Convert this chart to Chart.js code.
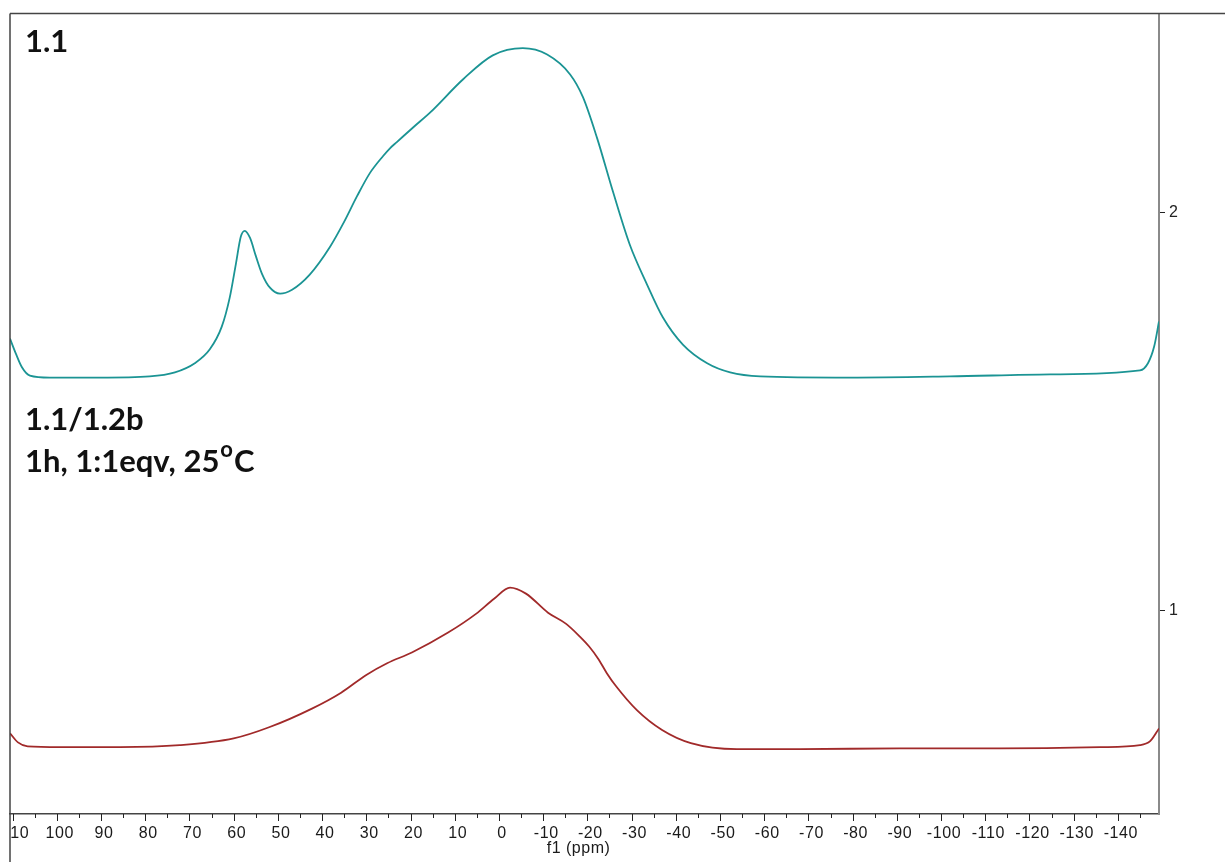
<!DOCTYPE html>
<html lang="en">
<head>
<meta charset="utf-8" />
<title>f1 (ppm) spectra</title>
<script src="https://cdn.jsdelivr.net/npm/chart.js@4.4.1/dist/chart.umd.min.js"></script>
<style>
  body { margin: 0; background: #fff; }
  canvas { display: block; }
</style>
</head>
<body>
<canvas id="chart" width="1225" height="862"></canvas>
<script>
// upper trace (1.1)
const ppmTop = [110.6, 109.3, 107.9, 106.1, 101.6, 90.3, 79.0, 73.3, 68.8, 65.4, 62.7, 60.9, 59.5, 58.4, 57.5, 56.3, 55.0, 53.6, 51.8, 49.5, 46.8, 42.8, 38.2, 35.0, 32.1, 29.2, 26.2, 24.6, 23.1, 19.3, 15.6, 8.1, 1.4, -5.4, -10.9, -16.1, -19.0, -22.2, -25.8, -29.6, -33.5, -37.1, -41.6, -47.1, -52.3, -59.1, -79.4, -102.0, -124.7, -145.0, -146.8, -148.2, -149.3];
const intTop = [1.684, 1.647, 1.612, 1.591, 1.586, 1.586, 1.589, 1.599, 1.622, 1.657, 1.714, 1.787, 1.872, 1.940, 1.955, 1.937, 1.892, 1.847, 1.812, 1.797, 1.807, 1.845, 1.915, 1.978, 2.042, 2.100, 2.143, 2.163, 2.178, 2.216, 2.252, 2.336, 2.396, 2.414, 2.398, 2.348, 2.291, 2.188, 2.053, 1.920, 1.820, 1.737, 1.669, 1.622, 1.599, 1.589, 1.586, 1.589, 1.594, 1.604, 1.622, 1.664, 1.727];

// lower trace (1.1/1.2b)
const ppmBottom = [110.6, 108.8, 106.6, 99.3, 85.7, 72.2, 60.0, 52.0, 42.3, 35.7, 30.1, 25.3, 19.7, 11.5, 5.2, 1.1, -2.5, -6.1, -11.1, -15.2, -18.3, -20.4, -22.4, -24.4, -26.5, -31.2, -36.9, -43.4, -53.8, -68.1, -90.7, -113.3, -136.0, -145.0, -147.3, -149.3];
const intBottom = [0.692, 0.669, 0.659, 0.657, 0.657, 0.662, 0.679, 0.707, 0.754, 0.794, 0.838, 0.868, 0.895, 0.945, 0.992, 1.030, 1.058, 1.043, 0.995, 0.967, 0.935, 0.910, 0.880, 0.843, 0.810, 0.750, 0.700, 0.667, 0.652, 0.652, 0.654, 0.654, 0.657, 0.662, 0.672, 0.704];

const xTickLabels = [110, 100, 90, 80, 70, 60, 50, 40, 30, 20, 10, 0, -10, -20, -30, -40, -50, -60, -70, -80, -90, -100, -110, -120, -130, -140];
const yTickLabels = [1, 2];

const xMin = -149.3, xMax = 110.6;
const yMin = 0.489, yMax = 2.501;

function toPoints(xs, ys) {
  return xs.map((x, i) => ({ x: x, y: ys[i] }));
}

// frame, x ticks and annotation text
const decor = {
  id: 'decor',
  afterDraw(chart) {
    const ctx = chart.ctx;
    const area = chart.chartArea;
    const xs = chart.scales.x;
    ctx.save();

    // frame lines
    ctx.strokeStyle = '#444';
    ctx.lineWidth = 1.5;
    ctx.beginPath();
    ctx.moveTo(area.left, area.top);
    ctx.lineTo(chart.width, area.top);
    ctx.moveTo(area.left, area.top);
    ctx.lineTo(area.left, chart.height);
    ctx.stroke();

    // x ticks (major + minor)
    ctx.strokeStyle = '#222';
    ctx.lineWidth = 1;
    ctx.beginPath();
    xTickLabels.forEach(v => {
      const px = Math.round(xs.getPixelForValue(v)) + 0.5;
      ctx.moveTo(px, area.bottom);
      ctx.lineTo(px, area.bottom + 7);
      const mx = Math.round(xs.getPixelForValue(v - 5)) + 0.5;
      if (v - 5 > xMin) {
        ctx.moveTo(mx, area.bottom);
        ctx.lineTo(mx, area.bottom + 4);
      }
    });
    ctx.stroke();

    // x tick labels, clipped at the left frame
    ctx.save();
    ctx.beginPath();
    ctx.rect(area.left + 1, area.bottom, chart.width, chart.height);
    ctx.clip();
    ctx.fillStyle = '#1a1a1a';
    ctx.font = '16px "Liberation Sans"';
    ctx.letterSpacing = '0.6px';
    ctx.textAlign = 'center';
    ctx.textBaseline = 'middle';
    xTickLabels.forEach(v => {
      ctx.fillText(String(v), xs.getPixelForValue(v) + 3, area.bottom + 20);
    });
    ctx.restore();

    ctx.fillStyle = '#1a1a1a';
    ctx.font = '16px "Liberation Sans"';
    ctx.letterSpacing = '0.5px';
    ctx.textAlign = 'center';
    ctx.textBaseline = 'middle';
    ctx.fillText('f1 (ppm)', xs.getPixelForValue(-18), area.bottom + 35);
    ctx.letterSpacing = '0px';

    // annotation text
    ctx.fillStyle = '#111';
    ctx.textAlign = 'left';
    ctx.textBaseline = 'alphabetic';
    ctx.font = 'bold 31px Lato';
    ctx.fillText('1.1', 25, 52);
    ctx.fillText('1.1/1.2b', 25, 430);
    const t = '1h, 1:1eqv, 25';
    ctx.fillText(t, 25, 472);
    const w = ctx.measureText(t).width;
    ctx.font = 'bold 22px Lato';
    ctx.fillText('o', 25 + w + 1, 457);
    const w2 = ctx.measureText('o').width;
    ctx.font = 'bold 31px Lato';
    ctx.fillText('C', 25 + w + w2 + 2, 472);

    ctx.restore();
  }
};

new Chart(document.getElementById('chart'), {
  type: 'line',
  data: {
    datasets: [
      {
        label: '1.1',
        data: toPoints(ppmTop, intTop),
        borderColor: '#1b9494',
        borderWidth: 1.8,
        pointRadius: 0,
        cubicInterpolationMode: 'monotone',
        fill: false
      },
      {
        label: '1.1/1.2b',
        data: toPoints(ppmBottom, intBottom),
        borderColor: '#a12a2a',
        borderWidth: 1.8,
        pointRadius: 0,
        cubicInterpolationMode: 'monotone',
        fill: false
      }
    ]
  },
  options: {
    responsive: false,
    devicePixelRatio: 1,
    animation: false,
    layout: { padding: { left: 10, top: 11, right: 0, bottom: 0 } },
    plugins: { legend: { display: false }, tooltip: { enabled: false } },
    scales: {
      x: {
        type: 'linear',
        reverse: true,
        min: xMin,
        max: xMax,
        position: 'bottom',
        grid: { display: false, drawTicks: false },
        border: { display: true, color: '#444', width: 1.5 },
        ticks: { display: false },
        afterFit: s => { s.height = 48; }
      },
      y: {
        type: 'linear',
        position: 'right',
        min: yMin,
        max: yMax,
        afterBuildTicks: s => { s.ticks = yTickLabels.map(v => ({ value: v })); },
        grid: { drawOnChartArea: false, drawTicks: true, tickLength: 6, tickColor: '#222' },
        border: { display: true, color: '#8a8a8a', width: 2 },
        ticks: { color: '#222', font: { family: 'Liberation Sans', size: 16 }, padding: 4 },
        afterFit: s => { s.width = 66; }
      }
    }
  },
  plugins: [decor]
});
</script>
</body>
</html>
